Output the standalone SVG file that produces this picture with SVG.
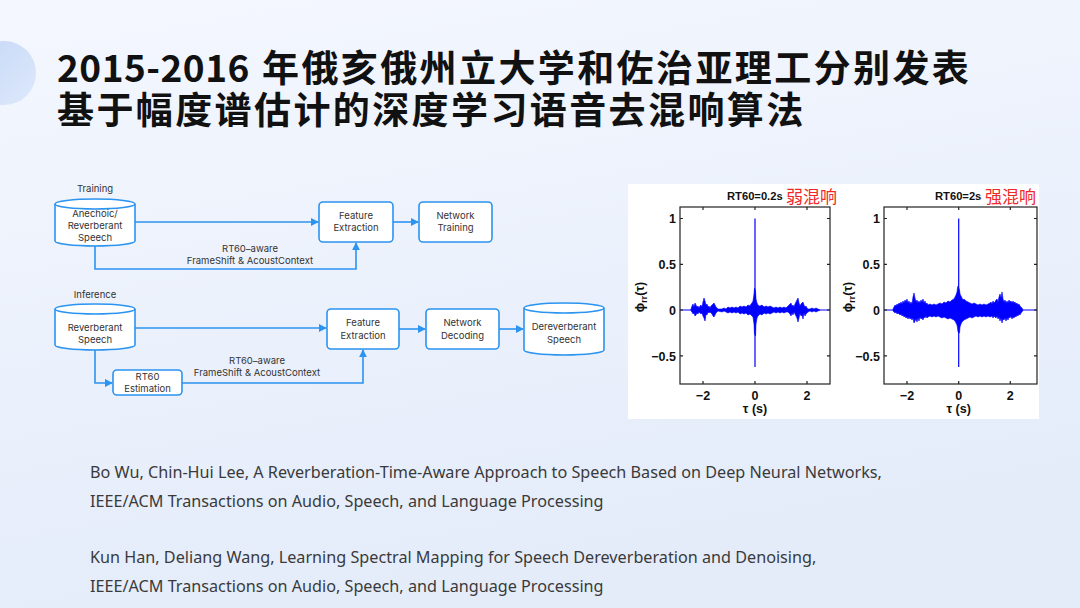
<svg xmlns="http://www.w3.org/2000/svg" width="1080" height="608" viewBox="0 0 1080 608">
<defs>
<linearGradient id="bg" x1="0" y1="0" x2="0.3" y2="1">
<stop offset="0" stop-color="#F4F7FE"/>
<stop offset="1" stop-color="#E4ECFA"/>
</linearGradient>
<linearGradient id="circ" x1="0" y1="0" x2="1" y2="1">
<stop offset="0" stop-color="#C6D8F7"/>
<stop offset="1" stop-color="#DDE8FB"/>
</linearGradient>
<marker id="ah" viewBox="0 0 10 10" refX="9" refY="5" markerWidth="8" markerHeight="8" markerUnits="userSpaceOnUse" orient="auto">
<path d="M0,0 L10,5 L0,10 z" fill="#2B93F0"/>
</marker>
<style>
.title{font-family:"Noto Sans CJK SC","Noto Sans",sans-serif;font-weight:700;font-size:37px;fill:#111111}
.cjk{letter-spacing:2.4px}
.ref{font-family:"Noto Sans","Open Sans",sans-serif;font-size:16.2px;fill:#3A3A3A}
.lbl{font-family:Inter,"Liberation Sans",sans-serif;font-size:9.5px;fill:#333333;text-anchor:middle}
.box{fill:#FFFFFF;stroke:#2B93F0;stroke-width:1.6}
.con{fill:none;stroke:#2B93F0;stroke-width:1.6}
.ax{fill:none;stroke:#222222;stroke-width:1.2}
.tk{font-family:"Liberation Sans",Arial,sans-serif;font-weight:700;font-size:12.5px;fill:#111111}
.pt{font-family:"Liberation Sans",Arial,sans-serif;font-weight:700;font-size:11.2px;fill:#111111}
.red{font-family:"Noto Sans CJK SC",sans-serif;font-size:17px;fill:#F02828}
.sig{fill:#0000FF;stroke:#0000FF;stroke-width:0.6}
.sl{stroke:#0000FF;stroke-width:1.2;fill:none}
</style>
</defs>
<rect x="0" y="0" width="1080" height="608" fill="url(#bg)"/>
<circle cx="4" cy="73" r="32" fill="url(#circ)"/>

<g id="title">
<text class="title" x="57" y="82"><tspan letter-spacing="0.5">2015-2016</tspan><tspan class="cjk" x="262">年俄亥俄州立大学和佐治亚理工分别发表</tspan></text>
<text class="title cjk" x="57" y="124">基于幅度谱估计的深度学习语音去混响算法</text>
</g>

<g id="connectors">
<path class="con" d="M135,222 L318,222" marker-end="url(#ah)"/>
<path class="con" d="M393,222 L418,222" marker-end="url(#ah)"/>
<path class="con" d="M95,246 L95,269 L356,269 L356,243" marker-end="url(#ah)"/>
<path class="con" d="M135,328 L326,328" marker-end="url(#ah)"/>
<path class="con" d="M399,329 L425,329" marker-end="url(#ah)"/>
<path class="con" d="M499,329 L523,329" marker-end="url(#ah)"/>
<path class="con" d="M95,350 L95,383 L112,383" marker-end="url(#ah)"/>
<path class="con" d="M182,383 L363,383 L363,350" marker-end="url(#ah)"/>
<text class="lbl" x="250" y="252">RT60–aware</text>
<text class="lbl" x="250" y="264">FrameShift &amp; AcoustContext</text>
<text class="lbl" x="257" y="364">RT60–aware</text>
<text class="lbl" x="257" y="376">FrameShift &amp; AcoustContext</text>
</g>

<g id="training-label"><text class="lbl" x="95" y="192">Training</text></g>
<g id="anechoic">
<path class="box" d="M55,204 L55,241 A40,5 0 0 0 135,241 L135,204 A40,5 0 0 0 55,204 Z"/>
<path class="con" d="M55,204 A40,5 0 0 0 135,204"/>
<text class="lbl" x="95" y="217">Anechoic/</text>
<text class="lbl" x="95" y="229">Reverberant</text>
<text class="lbl" x="95" y="241">Speech</text>
</g>
<g id="fe1">
<rect class="box" x="319" y="202" width="74" height="40" rx="4"/>
<text class="lbl" x="356" y="219">Feature</text>
<text class="lbl" x="356" y="231">Extraction</text>
</g>
<g id="nt">
<rect class="box" x="419" y="202" width="73" height="40" rx="4"/>
<text class="lbl" x="455.5" y="219">Network</text>
<text class="lbl" x="455.5" y="231">Training</text>
</g>

<g id="inference-label"><text class="lbl" x="95" y="298">Inference</text></g>
<g id="reverb">
<path class="box" d="M55,309 L55,345 A40,5 0 0 0 135,345 L135,309 A40,5 0 0 0 55,309 Z"/>
<path class="con" d="M55,309 A40,5 0 0 0 135,309"/>
<text class="lbl" x="95" y="331">Reverberant</text>
<text class="lbl" x="95" y="343">Speech</text>
</g>
<g id="fe2">
<rect class="box" x="327" y="309" width="72" height="40" rx="4"/>
<text class="lbl" x="363" y="326">Feature</text>
<text class="lbl" x="363" y="339">Extraction</text>
</g>
<g id="nd">
<rect class="box" x="426" y="309" width="73" height="40" rx="4"/>
<text class="lbl" x="462.5" y="326">Network</text>
<text class="lbl" x="462.5" y="339">Decoding</text>
</g>
<g id="derev">
<path class="box" d="M524,308 L524,350 A40,5 0 0 0 604,350 L604,308 A40,5 0 0 0 524,308 Z"/>
<path class="con" d="M524,308 A40,5 0 0 0 604,308"/>
<text class="lbl" x="564" y="330">Dereverberant</text>
<text class="lbl" x="564" y="343">Speech</text>
</g>
<g id="rt60">
<rect class="box" x="113" y="370" width="69" height="25" rx="4"/>
<text class="lbl" x="147.5" y="380">RT60</text>
<text class="lbl" x="147.5" y="392">Estimation</text>
</g>

<g id="plots">
<rect x="628" y="184" width="411" height="235" fill="#FFFFFF"/>
<!-- plot 1 -->
<text class="pt" x="727" y="200">RT60=0.2s</text>
<text class="red" x="786" y="203">弱混响</text>
<line class="sl" x1="680" y1="310" x2="830" y2="310"/>
<polygon class="sig" points="691,309 692,306 693,304 694,307 695,303 696,305 697,307 698,306 699,308 700,306 701,305 702,307 703,302 704,298 705,301 705.5,303 706,305 707,304 708,307 709,306 710,308 711,306 712,305 713,304 714,303 715,305 716,307 717,308 718,309 722,309 724,308 726,309 728,307 730,308 732,307 734,308 736,307 738,308 740,306 742,307 744,306 746,307 748,305 750,306 751,304 752,303 753,301 754,294 754.5,288 755.5,291 756,299 757,303 758,305 759,306 760,306 762,305 764,307 766,306 768,307 770,306 772,307 774,308 776,307 778,308 780,307 782,308 784,307 786,308 788,306 789,305 790,304 791,303 792,306 793,305 794,307 795,304 796,302 797,300 798,298 799,303 800,306 801,304 802,303 803,302 804,305 805,307 806,306 807,308 808,309 810,309 812,308 814,309 816,308 818,309 820,310 818,311 816,312 814,311 812,312 810,311 808,312 807,313 806,314 805,316 804,313 803,319 802,315 801,316 800,313 799,318 798,322 797,318 796,316 795,314 794,312 793,315 792,313 791,316 790,314 789,313 788,312 786,312 784,313 782,312 780,313 778,312 776,313 774,312 772,313 770,314 768,313 766,314 764,313 762,315 760,314 759,315 758,316 757,318 756,324 755.5,336 754.5,334 754,324 753,317 752,316 751,315 750,314 748,315 746,313 744,314 742,313 740,314 738,312 736,313 734,312 732,313 730,312 728,313 726,312 724,311 722,312 718,311 717,312 716,313 715,315 714,317 713,316 712,314 711,313 710,312 709,313 708,312 707,315 706,314 705.5,318 705,321 704,318 703,316 702,313 701,314 700,313 699,312 698,314 697,313 696,315 695,316 694,313 693,314 692,312 691,311"/>
<line class="sl" x1="755" y1="218.5" x2="755" y2="367"/>
<rect class="ax" x="680" y="207" width="150" height="177"/>
<path class="ax" d="M703,384 v-3 M755,384 v-3 M807,384 v-3 M703,207 v3 M755,207 v3 M807,207 v3 M680,218.5 h3 M680,264.3 h3 M680,310 h3 M680,355.8 h3 M830,218.5 h-3 M830,264.3 h-3 M830,310 h-3 M830,355.8 h-3"/>
<g class="tk" text-anchor="end">
<text x="676" y="223">1</text>
<text x="676" y="269">0.5</text>
<text x="676" y="315">0</text>
<text x="676" y="361">−0.5</text>
</g>
<g class="tk" text-anchor="middle">
<text x="703" y="400">−2</text>
<text x="755" y="400">0</text>
<text x="807" y="400">2</text>
<text x="755" y="413">τ (s)</text>
</g>
<text class="tk" font-size="11" text-anchor="middle" transform="translate(644,297) rotate(-90)">ϕ<tspan font-size="9" dy="3">rr</tspan><tspan dy="-3">(τ)</tspan></text>

<!-- plot 2 -->
<text class="pt" x="935" y="200">RT60=2s</text>
<text class="red" x="985" y="203">强混响</text>
<line class="sl" x1="884" y1="310" x2="1037" y2="310"/>
<polygon class="sig" points="893,309 894,307 895,305 896,306 897,304 898,305 899,303 900,304 901,302 902,304 903,301 904,303 905,300 906,302 907,299 908,303 909,301 910,304 911,302 912,304 913,297 914,293 915,298 916,302 917,300 918,303 919,301 920,303 921,300 922,302 923,299 924,303 925,301 926,304 927,303 928,305 930,304 932,305 934,304 936,305 938,304 940,303 942,304 944,302 946,303 948,301 950,302 952,300 954,299 955,297 956,295 957,292 957.5,288 958,286 959.5,290 960,294 961,296 962,298 963,300 964,299 966,301 968,302 970,303 972,304 974,303 976,304 978,305 980,304 982,305 984,304 986,305 988,304 990,303 991,302 992,304 993,301 994,303 995,302 996,300 997,299 998,302 999,297 1000,294 1001,298 1002,292 1003,299 1004,302 1005,300 1006,303 1007,301 1008,303 1009,300 1010,302 1011,301 1012,303 1013,301 1014,303 1015,302 1016,304 1017,303 1018,305 1019,304 1020,306 1021,307 1022,308 1023,310 1022,312 1021,313 1020,315 1019,314 1018,316 1017,315 1016,317 1015,316 1014,318 1013,317 1012,319 1011,316 1010,318 1009,317 1008,320 1007,318 1006,321 1005,318 1004,320 1003,319 1002,323 1001,318 1000,321 999,317 998,319 997,316 996,318 995,317 994,316 993,318 992,316 990,317 988,316 986,317 984,316 982,317 980,316 978,317 976,316 974,317 972,318 970,317 968,318 966,319 964,320 963,321 962,322 961,324 960,327 959.5,333 958,332 957.5,328 957,325 956,323 955,321 954,320 952,319 950,318 948,319 946,318 944,317 942,318 940,317 938,316 936,317 934,316 932,317 930,316 928,317 927,318 926,316 925,318 924,317 923,320 922,318 921,319 920,317 919,321 918,318 917,322 916,319 915,321 914,323 913,318 912,320 911,318 910,319 909,317 908,319 907,317 906,318 905,316 904,317 903,315 902,316 901,314 900,315 899,314 898,313 897,314 896,312 895,313 894,312 893,311"/>
<line class="sl" x1="958.7" y1="218.5" x2="958.7" y2="367"/>
<rect class="ax" x="884" y="207" width="153" height="177"/>
<path class="ax" d="M907,384 v-3 M958.7,384 v-3 M1010.3,384 v-3 M907,207 v3 M958.7,207 v3 M1010.3,207 v3 M884,218.5 h3 M884,264.3 h3 M884,310 h3 M884,355.8 h3 M1037,218.5 h-3 M1037,264.3 h-3 M1037,310 h-3 M1037,355.8 h-3"/>
<g class="tk" text-anchor="end">
<text x="880" y="223">1</text>
<text x="880" y="269">0.5</text>
<text x="880" y="315">0</text>
<text x="880" y="361">−0.5</text>
</g>
<g class="tk" text-anchor="middle">
<text x="907" y="400">−2</text>
<text x="958.7" y="400">0</text>
<text x="1010.3" y="400">2</text>
<text x="958.7" y="413">τ (s)</text>
</g>
<text class="tk" font-size="11" text-anchor="middle" transform="translate(852,297) rotate(-90)">ϕ<tspan font-size="9" dy="3">rr</tspan><tspan dy="-3">(τ)</tspan></text>
</g>

<g id="references">
<text class="ref" x="90" y="478">Bo Wu, Chin-Hui Lee, A Reverberation-Time-Aware Approach to Speech Based on Deep Neural Networks,</text>
<text class="ref" x="90" y="507">IEEE/ACM Transactions on Audio, Speech, and Language Processing</text>
<text class="ref" x="90" y="563">Kun Han, Deliang Wang, Learning Spectral Mapping for Speech Dereverberation and Denoising,</text>
<text class="ref" x="90" y="592">IEEE/ACM Transactions on Audio, Speech, and Language Processing</text>
</g>
</svg>
